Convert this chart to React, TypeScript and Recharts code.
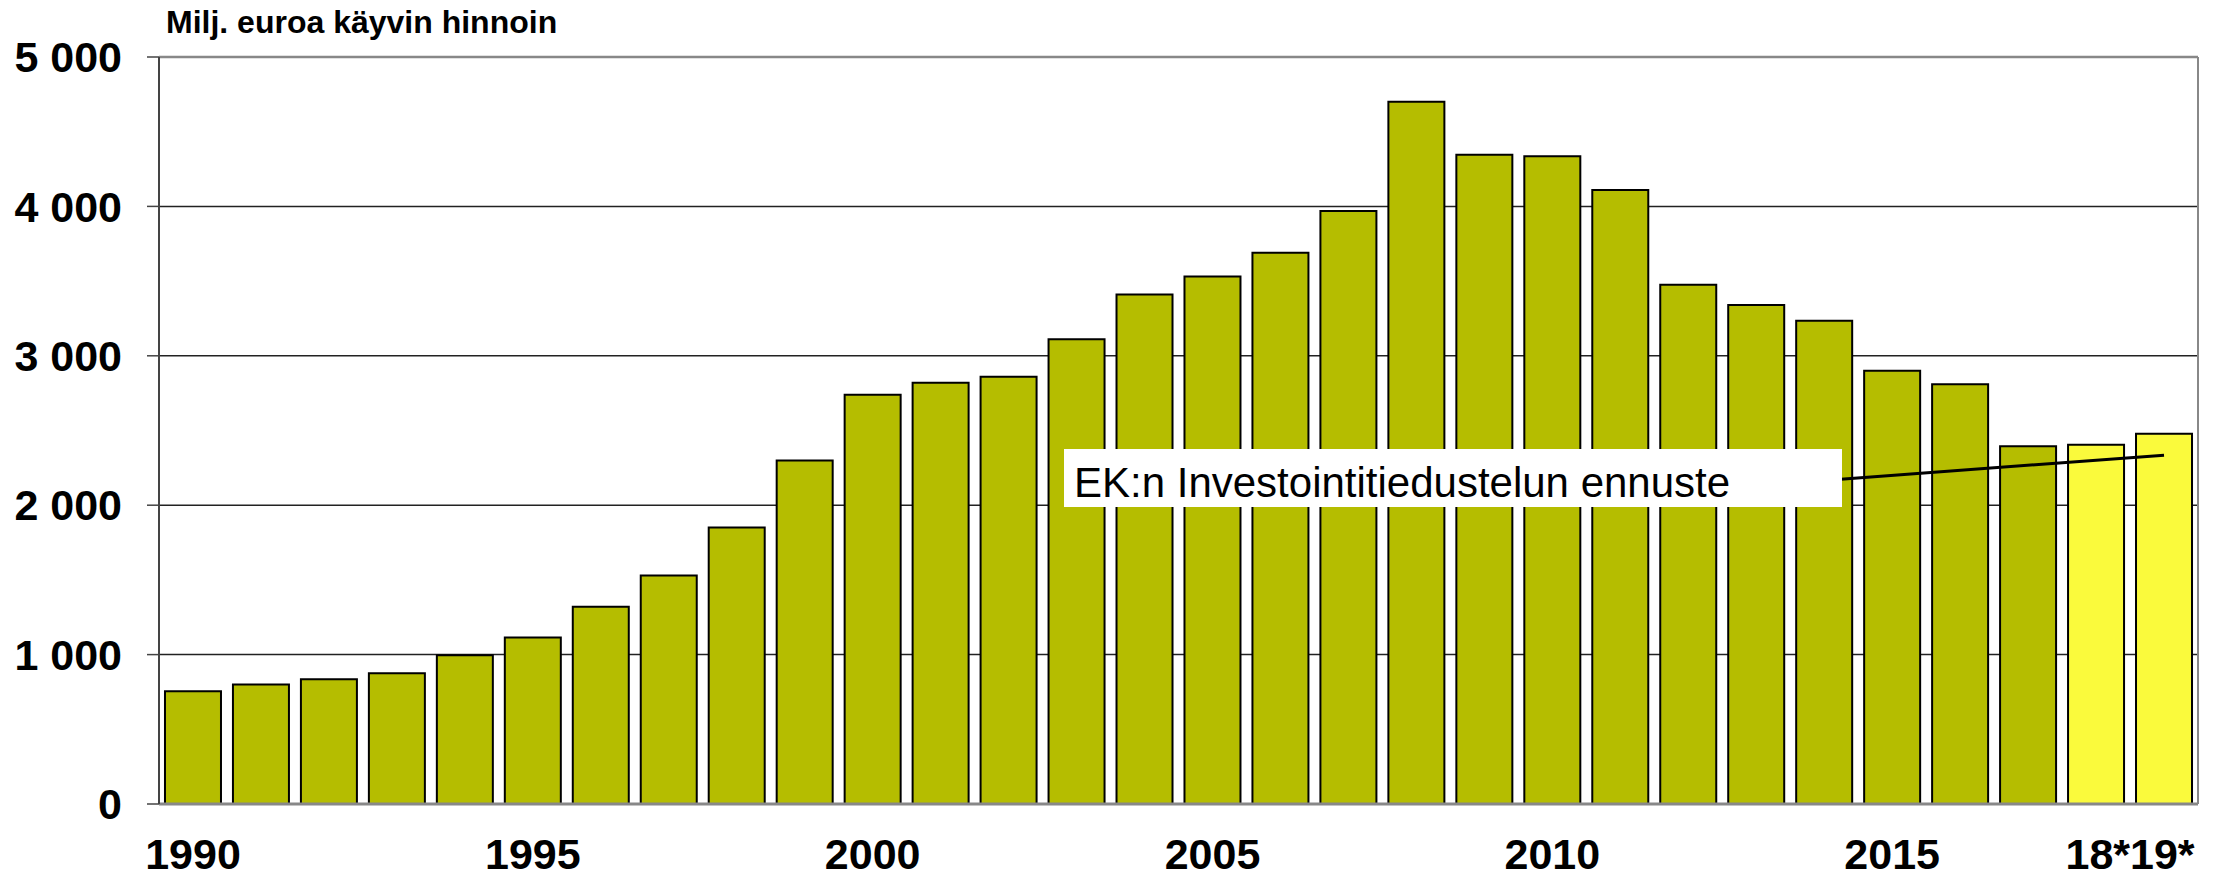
import { BarChart, Bar, XAxis, YAxis, CartesianGrid, ReferenceLine, Cell } from 'recharts';

const years = [
  '1990', '1991', '1992', '1993', '1994', '1995', '1996', '1997', '1998', '1999',
  '2000', '2001', '2002', '2003', '2004', '2005', '2006', '2007', '2008', '2009',
  '2010', '2011', '2012', '2013', '2014', '2015', '2016', '2017', '18*', '19*',
];
const investments = [
  755, 800, 835, 875, 995, 1115, 1320, 1530, 1850, 2300,
  2740, 2820, 2860, 3110, 3410, 3530, 3690, 3970, 4700, 4345,
  4335, 4110, 3475, 3340, 3235, 2900, 2810, 2395, 2405, 2478,
];
const forecastYears = ['18*', '19*'];
const yTicks = [0, 1000, 2000, 3000, 4000, 5000];
const shownYears = ['1990', '1995', '2000', '2005', '2010', '2015'];
const combinedLabel = '18*19*';
const forecastLine = [
  { x: '2014', y: 2165 },
  { x: '19*', y: 2335 },
];

const FONT = '"Liberation Sans", Arial, Helvetica, sans-serif';
const W = 2228;
const H = 878;

const data = years.map((year, i) => ({ year, value: investments[i] }));

const fmt = (v: number) => String(v).replace(/\B(?=(\d{3})+(?!\d))/g, ' ');

function YearTick({ x, y, payload }: any) {
  const v = payload.value;
  let label: string | null = null;
  let cx = x;
  if (shownYears.includes(v)) label = v;
  else if (v === forecastYears[0]) {
    label = combinedLabel;
    cx = x + 34; // centre between the two forecast bars
  }
  if (!label) return <g />;
  return (
    <text x={cx} y={y + 65} textAnchor="middle" fill="#000" fontSize={43} fontWeight="bold" fontFamily={FONT}>
      {label}
    </text>
  );
}

export default function App() {
  return (
    <div style={{ position: 'absolute', left: 0, top: 0, width: W, height: H, background: '#fff' }}>
      <BarChart
        width={W}
        height={H}
        data={data}
        margin={{ top: 57, right: 0, bottom: 0, left: 0 }}
        barCategoryGap="8.8%"
      >
        <CartesianGrid vertical={false} stroke="#222" strokeWidth={1.5} />
        <XAxis
          dataKey="year"
          interval={0}
          height={74}
          tickLine={false}
          tickSize={0}
          tickMargin={0}
          axisLine={{ stroke: '#888', strokeWidth: 3 }}
          tick={<YearTick />}
        />
        <YAxis
          domain={[0, 5000]}
          ticks={yTicks}
          width={159}
          tickSize={12}
          tickMargin={25}
          tickFormatter={fmt}
          tickLine={{ stroke: '#444', strokeWidth: 1.5 }}
          axisLine={{ stroke: '#444', strokeWidth: 2 }}
          tick={{ fill: '#000', fontSize: 43, fontWeight: 'bold', fontFamily: FONT }}
        />
        <YAxis
          yAxisId="r"
          orientation="right"
          width={30}
          tick={false}
          tickLine={false}
          axisLine={{ stroke: '#888', strokeWidth: 2 }}
        />
        <Bar dataKey="value" stroke="#000" strokeWidth={2} isAnimationActive={false}>
          {data.map((d) => (
            <Cell key={d.year} fill={forecastYears.includes(d.year) ? '#FAFA3C' : '#B5BD00'} />
          ))}
        </Bar>
        <ReferenceLine y={5000} stroke="#888" strokeWidth={2.5} />
        <ReferenceLine segment={forecastLine} stroke="#000" strokeWidth={3} />
      </BarChart>
      <svg
        width={W}
        height={H}
        style={{ position: 'absolute', left: 0, top: 0, pointerEvents: 'none' }}
      >
        <text x={166} y={33} fontSize={32} fontWeight="bold" fontFamily={FONT} fill="#000">
          Milj. euroa käyvin hinnoin
        </text>
        <rect x={1064} y={449} width={778} height={58} fill="#fff" />
        <text x={1074} y={497} fontSize={42} fontFamily={FONT} fill="#000">
          EK:n Investointitiedustelun ennuste
        </text>
      </svg>
    </div>
  );
}
